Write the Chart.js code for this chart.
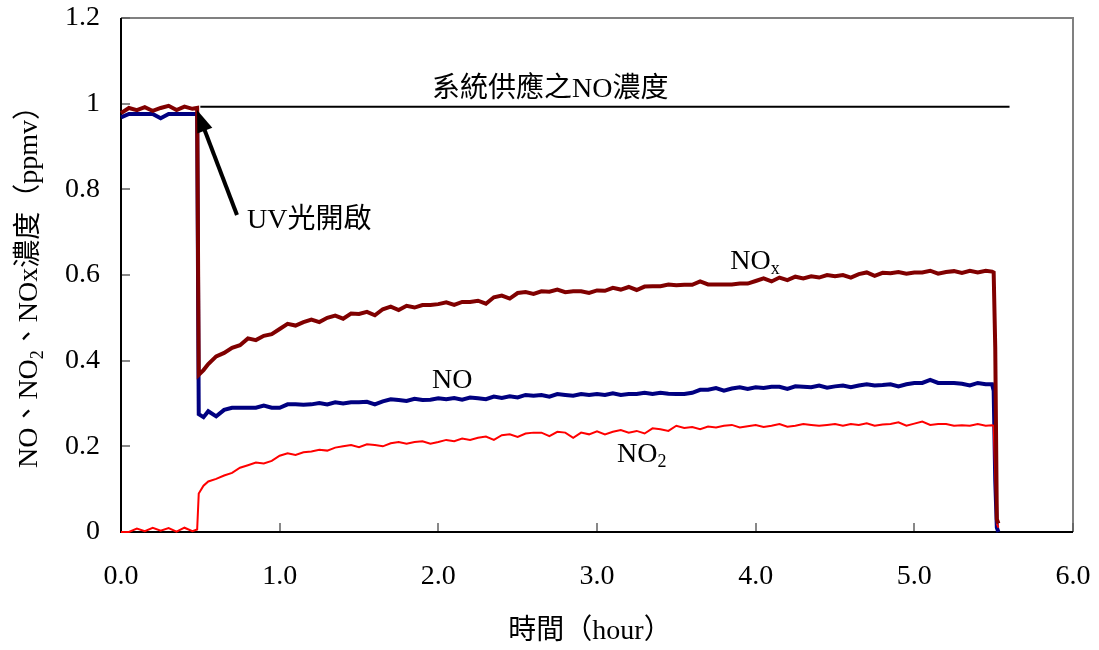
<!DOCTYPE html>
<html><head><meta charset="utf-8">
<script src="https://cdn.jsdelivr.net/npm/chart.js@4.4.0/dist/chart.umd.min.js"></script>
<style>html,body{margin:0;padding:0;background:#fff;}canvas{display:block;}</style>
</head><body>
<canvas id="c" width="1099" height="650"></canvas>
<script>
// time (hour)
const hours = [0,0.05,0.1,0.15,0.2,0.25,0.3,0.35,0.4,0.45,0.48,0.49,0.52,
0.55,0.6,0.65,0.7,0.75,0.8,0.85,0.9,0.95,1.0,
1.05,1.1,1.15,1.2,1.25,1.3,1.35,1.4,1.45,1.5,
1.55,1.6,1.65,1.7,1.75,1.8,1.85,1.9,1.95,2.0,
2.05,2.1,2.15,2.2,2.25,2.3,2.35,2.4,2.45,2.5,
2.55,2.6,2.65,2.7,2.75,2.8,2.85,2.9,2.95,3.0,
3.05,3.1,3.15,3.2,3.25,3.3,3.35,3.4,3.45,3.5,
3.55,3.6,3.65,3.7,3.75,3.8,3.85,3.9,3.95,4.0,
4.05,4.1,4.15,4.2,4.25,4.3,4.35,4.4,4.45,4.5,
4.55,4.6,4.65,4.7,4.75,4.8,4.85,4.9,4.95,5.0,
5.05,5.1,5.15,5.2,5.25,5.3,5.35,5.4,5.45,
5.49,5.5,5.51,5.52,5.53];

const noxValues = [0.978,0.99,0.985,0.992,0.983,0.99,0.995,0.985,0.993,0.988,0.99,0.367,0.378,
0.392,0.41,0.418,0.43,0.436,0.452,0.448,0.458,0.462,0.474,
0.486,0.482,0.49,0.496,0.49,0.5,0.505,0.498,0.51,0.509,
0.514,0.506,0.52,0.526,0.518,0.528,0.524,0.53,0.53,0.532,
0.536,0.53,0.537,0.537,0.54,0.533,0.548,0.552,0.545,0.558,
0.56,0.556,0.562,0.561,0.566,0.56,0.562,0.562,0.558,0.564,
0.563,0.57,0.566,0.572,0.565,0.573,0.574,0.574,0.578,0.576,
0.577,0.577,0.585,0.578,0.578,0.578,0.578,0.58,0.58,0.586,
0.592,0.585,0.594,0.588,0.596,0.592,0.597,0.594,0.6,0.597,
0.6,0.594,0.602,0.606,0.598,0.605,0.604,0.607,0.603,0.606,
0.606,0.61,0.603,0.607,0.609,0.605,0.61,0.606,0.61,
0.608,0.606,0.43,0.03,0.02];

const noValues = [0.968,0.976,0.976,0.976,0.976,0.966,0.976,0.976,0.976,0.976,0.976,0.275,0.268,
0.282,0.27,0.285,0.29,0.29,0.29,0.29,0.295,0.29,0.29,
0.298,0.298,0.297,0.298,0.301,0.298,0.303,0.3,0.303,0.303,
0.304,0.298,0.305,0.31,0.308,0.306,0.311,0.308,0.309,0.312,
0.31,0.313,0.309,0.314,0.312,0.31,0.316,0.313,0.317,0.314,
0.32,0.318,0.32,0.316,0.322,0.32,0.318,0.322,0.32,0.322,
0.32,0.324,0.32,0.322,0.322,0.325,0.322,0.325,0.323,0.322,
0.322,0.325,0.332,0.332,0.336,0.33,0.335,0.338,0.334,0.338,
0.336,0.339,0.339,0.334,0.34,0.339,0.338,0.342,0.337,0.34,
0.342,0.338,0.342,0.345,0.342,0.343,0.345,0.34,0.345,0.348,
0.348,0.355,0.348,0.348,0.348,0.346,0.342,0.348,0.345,
0.345,0.33,0.12,0.01,0.0];

const no2Values = [0,0,0.008,0.002,0.01,0.003,0.009,0.001,0.01,0.002,0.006,0.09,0.108,
0.118,0.124,0.132,0.138,0.15,0.156,0.162,0.16,0.166,0.178,
0.184,0.18,0.186,0.188,0.192,0.19,0.197,0.2,0.203,0.198,
0.205,0.203,0.2,0.207,0.21,0.206,0.21,0.212,0.206,0.21,
0.215,0.212,0.218,0.215,0.22,0.223,0.215,0.226,0.228,0.222,
0.23,0.232,0.232,0.224,0.234,0.232,0.22,0.232,0.228,0.235,
0.228,0.234,0.238,0.232,0.236,0.23,0.242,0.24,0.236,0.248,
0.243,0.245,0.24,0.246,0.244,0.248,0.25,0.244,0.247,0.25,
0.245,0.248,0.252,0.246,0.248,0.252,0.25,0.248,0.25,0.252,
0.248,0.252,0.25,0.254,0.248,0.251,0.252,0.256,0.248,0.253,
0.258,0.25,0.252,0.252,0.248,0.249,0.248,0.252,0.248,
0.249,0.248,0.13,0.02,0.01];

// supplied NO concentration line
const supplyHours = [0.5, 5.6];
const supplyValues = [0.993, 0.993];

const xTickLabels = ['0.0','1.0','2.0','3.0','4.0','5.0','6.0'];
const yTickLabels = ['0','0.2','0.4','0.6','0.8','1','1.2'];

const SERIF = "'Liberation Serif', 'Noto Sans CJK TC', serif";
const FS = 28;

function pts(xs, ys){ return xs.map((x,i)=>({x:x, y:ys[i]})); }

function drawRich(ctx, x, y, parts, size){
  let cx = x;
  ctx.textBaseline = 'middle';
  ctx.textAlign = 'left';
  for (const p of parts){
    const fs = p.sub ? Math.round(size*0.65) : size;
    ctx.font = fs + 'px ' + SERIF;
    ctx.fillText(p.t, cx, y + (p.sub ? size*0.28 : 0));
    cx += ctx.measureText(p.t).width;
  }
  return cx - x;
}
function richWidth(ctx, parts, size){
  let w = 0;
  for (const p of parts){
    const fs = p.sub ? Math.round(size*0.65) : size;
    ctx.font = fs + 'px ' + SERIF;
    w += ctx.measureText(p.t).width;
  }
  return w;
}

const decor = {
  id: 'decor',
  beforeDatasetsDraw(chart){
    const ctx = chart.ctx, a = chart.chartArea;
    const xs = chart.scales.x, ys = chart.scales.y;
    ctx.save();
    ctx.strokeStyle = '#808080'; ctx.lineWidth = 2;
    ctx.beginPath(); ctx.moveTo(a.left, a.top); ctx.lineTo(a.right, a.top); ctx.lineTo(a.right, a.bottom); ctx.stroke();
    ctx.strokeStyle = '#606060'; ctx.lineWidth = 1.5;
    ys.ticks.forEach(t => { const py = Math.round(ys.getPixelForValue(t.value)); ctx.beginPath(); ctx.moveTo(a.left, py); ctx.lineTo(a.left+9, py); ctx.stroke(); });
    xs.ticks.forEach(t => { const px = Math.round(xs.getPixelForValue(t.value)); ctx.beginPath(); ctx.moveTo(px, a.bottom); ctx.lineTo(px, a.bottom-9); ctx.stroke(); });
    ctx.strokeStyle = '#000'; ctx.lineWidth = 2;
    ctx.beginPath(); ctx.moveTo(a.left, a.top); ctx.lineTo(a.left, a.bottom); ctx.lineTo(a.right, a.bottom); ctx.stroke();
    ctx.restore();
  },
  afterDraw(chart){
    const ctx = chart.ctx;
    const xs = chart.scales.x, ys = chart.scales.y;
    const X = v => xs.getPixelForValue(v), Y = v => ys.getPixelForValue(v);
    ctx.save();
    ctx.fillStyle = '#000';
    drawRich(ctx, X(1.96), Y(1.032), [{t:'系統供應之NO濃度'}], FS);
    drawRich(ctx, X(0.794), Y(0.728), [{t:'UV光開啟'}], FS);
    drawRich(ctx, X(1.96), Y(0.353), [{t:'NO'}], FS);
    drawRich(ctx, X(3.84), Y(0.632), [{t:'NO'},{t:'x',sub:true}], FS);
    drawRich(ctx, X(3.126), Y(0.18), [{t:'NO'},{t:'2',sub:true}], FS);
    const tipX = X(0.479), tipY = Y(0.985), tailX = X(0.731), tailY = Y(0.740);
    const dx = tailX - tipX, dy = tailY - tipY, len = Math.hypot(dx, dy);
    const ux = dx/len, uy = dy/len;
    const hl = 22, hw = 8;
    ctx.strokeStyle = '#000'; ctx.lineWidth = 4;
    ctx.beginPath(); ctx.moveTo(tailX, tailY); ctx.lineTo(tipX + ux*hl*0.8, tipY + uy*hl*0.8); ctx.stroke();
    ctx.beginPath();
    ctx.moveTo(tipX, tipY);
    ctx.lineTo(tipX + ux*hl - uy*hw, tipY + uy*hl + ux*hw);
    ctx.lineTo(tipX + ux*hl + uy*hw, tipY + uy*hl - ux*hw);
    ctx.closePath(); ctx.fill();
    const xt = [{t:'時間（hour）'}];
    const xw = richWidth(ctx, xt, FS);
    drawRich(ctx, 590 - xw/2, 632, xt, FS);
    const yt = [{t:'NO、NO'},{t:'2',sub:true},{t:'、NOx濃度（ppmv）'}];
    const yw = richWidth(ctx, yt, FS);
    ctx.translate(30, 280); ctx.rotate(-Math.PI/2);
    drawRich(ctx, -yw/2, 0, yt, FS);
    ctx.restore();
  }
};

new Chart(document.getElementById('c'), {
  type: 'line',
  data: {
    datasets: [
      { label:'NOx', data: pts(hours, noxValues), borderColor:'#800000', borderWidth:4, pointRadius:0, tension:0, clip:false },
      { label:'NO2', data: pts(hours, no2Values), borderColor:'#FF0000', borderWidth:2, pointRadius:0, tension:0, clip:false },
      { label:'NO', data: pts(hours, noValues), borderColor:'#000080', borderWidth:4, pointRadius:0, tension:0, clip:false },
      { label:'supply', data: pts(supplyHours, supplyValues), borderColor:'#000000', borderWidth:2, pointRadius:0, tension:0, clip:false }
    ]
  },
  options: {
    responsive: false, animation: false, devicePixelRatio: 1,
    layout: { padding: { top: 18, right: 26, left: 0, bottom: 0 } },
    plugins: { legend: { display:false }, tooltip: { enabled:false }, title: { display:false } },
    events: [],
    scales: {
      x: {
        type: 'linear', min: 0, max: 6,
        grid: { display:false, drawTicks:false }, border: { display:false },
        ticks: { stepSize: 1, color:'#000', padding: 28, font: { family: SERIF, size: FS }, maxRotation:0, callback: (v, i) => xTickLabels[i] },
        afterFit: s => { s.height = 118; s.paddingLeft = 0; s.paddingRight = 0; s.paddingTop = 0; s.paddingBottom = 0; }
      },
      y: {
        min: 0, max: 1.2,
        grid: { display:false, drawTicks:false }, border: { display:false },
        ticks: { stepSize: 0.2, color:'#000', padding: 21, font: { family: SERIF, size: FS }, callback: (v, i) => yTickLabels[i] },
        afterFit: s => { s.width = 121; s.paddingLeft = 0; s.paddingRight = 0; s.paddingTop = 0; s.paddingBottom = 0; }
      }
    }
  },
  plugins: [decor]
});
</script>
</body></html>
